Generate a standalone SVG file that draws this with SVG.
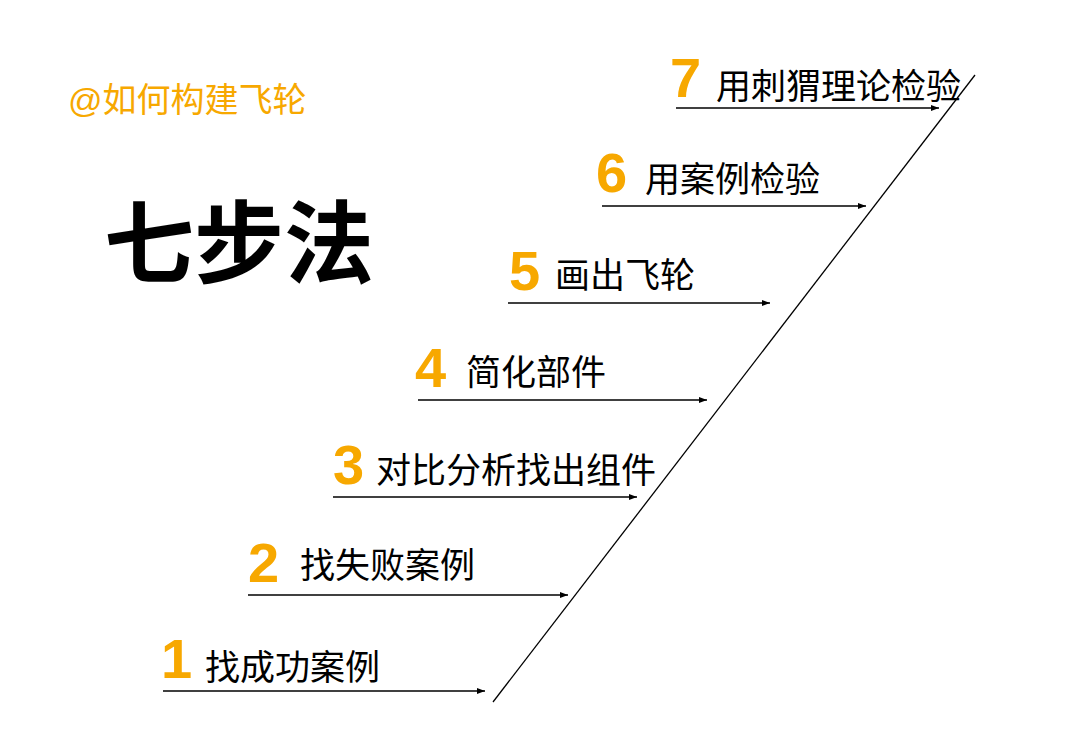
<svg xmlns="http://www.w3.org/2000/svg" width="1080" height="743" viewBox="0 0 1080 743">
<defs>
<marker id="ah" markerWidth="8" markerHeight="6" refX="8" refY="3" orient="auto" markerUnits="userSpaceOnUse"><path d="M0,0 L8,3 L0,6 z" fill="#000"/></marker>
<style>
.n{font-family:"Liberation Sans","Noto Sans CJK SC",sans-serif;font-weight:bold;font-size:56px;fill:#F7A800}
.t{font-family:"Liberation Sans","Noto Sans CJK SC",sans-serif;font-size:35px;fill:#000}
.a{stroke:#000;stroke-width:1.3;fill:none;marker-end:url(#ah)}
</style>
</defs>
<rect width="1080" height="743" fill="#fff"/>
<text x="68" y="112" style="font-family:'Liberation Sans','Noto Sans CJK SC',sans-serif;font-size:34px;fill:#F7A800">@如何构建飞轮</text>
<text x="104" y="276" style="font-family:'Liberation Sans','Noto Sans CJK SC',sans-serif;font-size:90px;font-weight:bold;fill:#000">七步法</text>
<g id="connectors">
<line x1="493" y1="702" x2="975" y2="75" stroke="#000" stroke-width="1.3"/>
<line class="a" x1="163" y1="691" x2="485" y2="691"/>
<line class="a" x1="248" y1="595" x2="568" y2="595"/>
<line class="a" x1="333" y1="497" x2="637" y2="497"/>
<line class="a" x1="418" y1="400" x2="707" y2="400"/>
<line class="a" x1="508" y1="303" x2="770" y2="303"/>
<line class="a" x1="602" y1="206" x2="866" y2="206"/>
<line class="a" x1="676" y1="108" x2="939" y2="108"/>
</g>
<g id="s1"><text class="n" x="161" y="678">1</text><text class="t" x="205" y="680">找成功案例</text></g>
<g id="s2"><text class="n" x="248" y="582">2</text><text class="t" x="300" y="578">找失败案例</text></g>
<g id="s3"><text class="n" x="333" y="484">3</text><text class="t" x="376" y="483">对比分析找出组件</text></g>
<g id="s4"><text class="n" x="415" y="387">4</text><text class="t" x="466" y="385">简化部件</text></g>
<g id="s5"><text class="n" x="509" y="290">5</text><text class="t" x="555" y="288">画出飞轮</text></g>
<g id="s6"><text class="n" x="596" y="192">6</text><text class="t" x="645" y="192">用案例检验</text></g>
<g id="s7"><text class="n" x="670" y="97">7</text><text class="t" x="716" y="99">用刺猬理论检验</text></g>
</svg>
